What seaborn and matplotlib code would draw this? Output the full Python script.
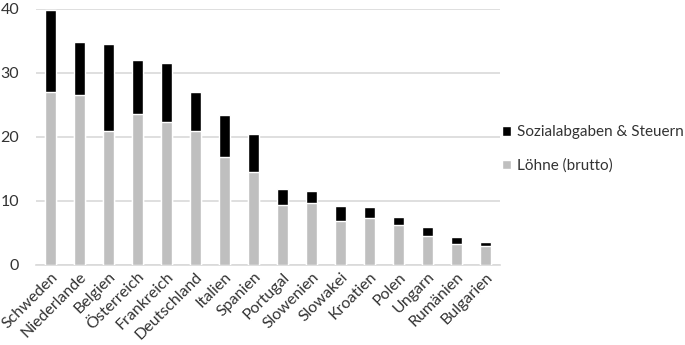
import pandas as pd
import seaborn as sns
import matplotlib.pyplot as plt

# Arbeitskosten je Stunde (EUR)
laender = ["Schweden", "Niederlande", "Belgien", "Österreich", "Frankreich",
           "Deutschland", "Italien", "Spanien", "Portugal", "Slowenien",
           "Slowakei", "Kroatien", "Polen", "Ungarn", "Rumänien", "Bulgarien"]
loehne = [27.0, 26.5, 21.0, 23.6, 22.4, 21.0, 16.8, 14.5, 9.4, 9.7,
          6.8, 7.4, 6.2, 4.6, 3.3, 3.0]
gesamt = [39.8, 34.8, 34.5, 32.1, 31.6, 27.0, 23.4, 20.5, 11.9, 11.5,
          9.2, 9.0, 7.5, 6.0, 4.3, 3.6]

df = pd.DataFrame({"land": laender, "loehne": loehne, "gesamt": gesamt})

sns.set_style("white")
plt.rcParams["font.family"] = ["Lato", "DejaVu Sans"]

fig = plt.figure(figsize=(6.85, 3.45), dpi=100)
ax = fig.add_axes([0.0526, 0.232, 0.6774, 0.742])

# total bar in black, wages drawn over it in grey -> stacked look
sns.barplot(data=df, x="land", y="gesamt", color="black", width=0.39,
            saturation=1, label="Sozialabgaben & Steuern", ax=ax, zorder=3)
sns.barplot(data=df, x="land", y="loehne", color="#bfbfbf", width=0.39,
            saturation=1, label="Löhne (brutto)", ax=ax, zorder=3)

ax.set_ylim(0, 40)
ax.set_xlim(-0.5, len(laender) - 0.5)
ax.set_yticks([0, 10, 20, 30, 40])
ax.yaxis.grid(True, color="#d9d9d9", linewidth=1.2, zorder=0)
ax.set_axisbelow(True)
ax.set_xlabel("")
ax.set_ylabel("")
for s in ["top", "right", "left"]:
    ax.spines[s].set_visible(False)
ax.spines["bottom"].set_color("#d9d9d9")
ax.spines["bottom"].set_linewidth(1.2)
ax.tick_params(axis="both", length=0, labelsize=11.5, colors="#333333")
ax.tick_params(axis="y", pad=12)
plt.setp(ax.get_xticklabels(), rotation=45, ha="right", rotation_mode="anchor")

ax.legend(loc="center left", bbox_to_anchor=(0.733, 0.568), bbox_transform=fig.transFigure,
          frameon=False, borderpad=0, borderaxespad=0, handlelength=0.6,
          handleheight=0.6, handletextpad=0.4, labelspacing=1.25, fontsize=11,
          labelcolor="#333333")

fig.savefig("out.png", dpi=100)
